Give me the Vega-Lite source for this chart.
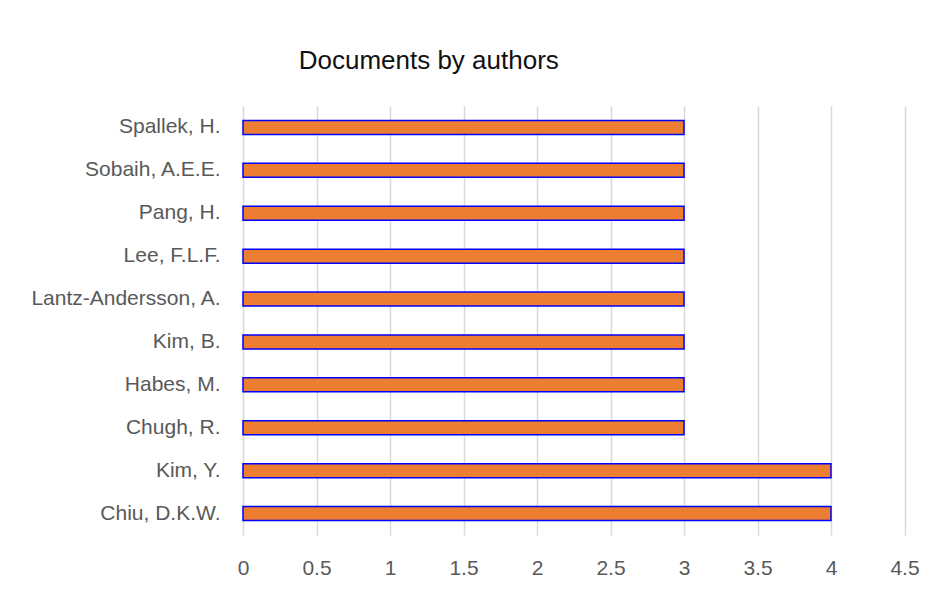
{
  "$schema": "https://vega.github.io/schema/vega-lite/v6.json",
  "autosize": {"type": "none"},
  "width": 661.5,
  "height": 429,
  "padding": {"left": 243, "top": 106, "right": 31.5, "bottom": 57},
  "background": "white",
  "title": {
    "text": "Documents by authors",
    "anchor": "middle",
    "frame": "group",
    "dx": -145,
    "offset": 32,
    "fontSize": 26,
    "font": "Liberation Sans",
    "fontWeight": "normal",
    "color": "#111111"
  },
  "data": {
    "values": [
      {"author": "Spallek, H.", "documents": 3},
      {"author": "Sobaih, A.E.E.", "documents": 3},
      {"author": "Pang, H.", "documents": 3},
      {"author": "Lee, F.L.F.", "documents": 3},
      {"author": "Lantz-Andersson, A.", "documents": 3},
      {"author": "Kim, B.", "documents": 3},
      {"author": "Habes, M.", "documents": 3},
      {"author": "Chugh, R.", "documents": 3},
      {"author": "Kim, Y.", "documents": 4},
      {"author": "Chiu, D.K.W.", "documents": 4}
    ]
  },
  "mark": {"type": "bar", "color": "#ED7D31", "stroke": "#0000FF", "strokeWidth": 1.5, "size": 14},
  "encoding": {
    "y": {
      "field": "author",
      "type": "nominal",
      "sort": null,
      "title": null,
      "scale": {"paddingInner": 0, "paddingOuter": 0},
      "axis": {
        "domain": false,
        "ticks": false,
        "grid": false,
        "labelPadding": 23,
        "labelFontSize": 21,
        "labelLimit": 400,
        "labelFont": "Liberation Sans",
        "labelColor": "#595959"
      }
    },
    "x": {
      "field": "documents",
      "type": "quantitative",
      "title": null,
      "scale": {"domain": [0, 4.5], "nice": false},
      "axis": {
        "values": [0, 0.5, 1, 1.5, 2, 2.5, 3, 3.5, 4, 4.5],
        "format": "~g",
        "domain": false,
        "ticks": false,
        "grid": true,
        "gridColor": "#D9D9D9",
        "gridWidth": 1.5,
        "labelPadding": 22,
        "labelFontSize": 21,
        "labelFont": "Liberation Sans",
        "labelColor": "#595959",
        "labelFlush": false,
        "labelOverlap": false
      }
    }
  },
  "config": {"view": {"stroke": null}}
}
